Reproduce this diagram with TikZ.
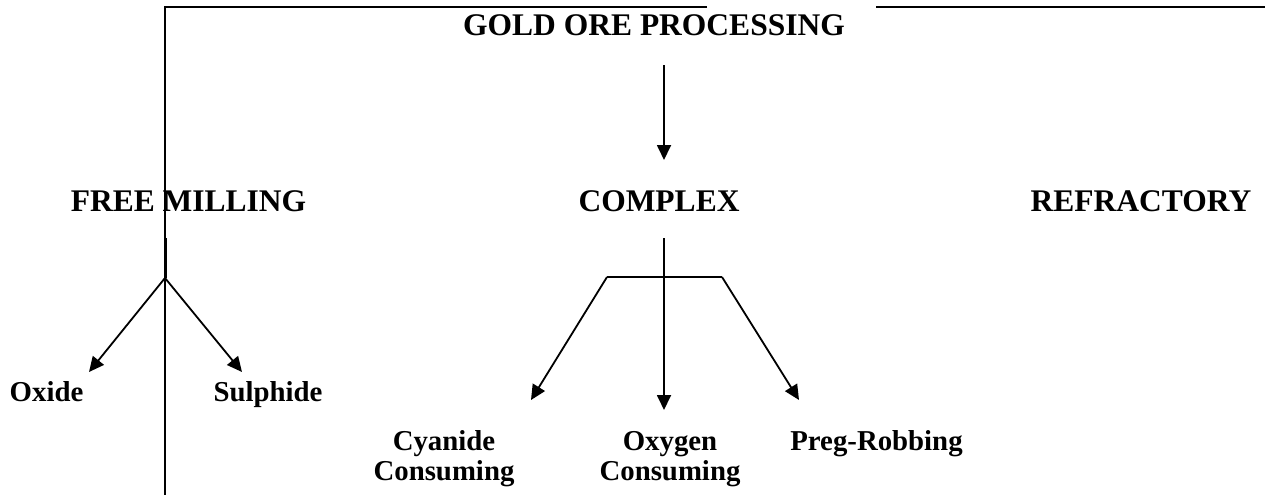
\documentclass[tikz,border=0pt]{standalone}
\usepackage{fontspec}
\setmainfont{Liberation Serif}
\usetikzlibrary{arrows.meta}
\tikzset{
  big/.style={font=\fontsize{31.5}{36}\selectfont\bfseries, inner sep=0pt, anchor=base},
  small/.style={font=\fontsize{28.8}{30}\selectfont\bfseries, inner sep=0pt, anchor=base, align=center},
  conn/.style={line width=1.8pt, -{Triangle[length=15pt,width=14pt]}},
  plain/.style={line width=1.8pt},
}
\begin{document}
\begin{tikzpicture}[x=1pt,y=-1pt]
\useasboundingbox (0,0) rectangle (1265,495);
% frame lines
\coordinate (tl) at (165,7);
\coordinate (tm1) at (707,7);
\coordinate (tm2) at (876,7);
\coordinate (tr) at (1265,7);
\coordinate (bl) at (165,495);
\draw[line width=1.8pt] (tm1) -- (tl) -- (bl);
\draw[line width=1.8pt] (tm2) -- (tr);
% labels
\node[big] (title) at (654,36) {GOLD ORE PROCESSING};
\node[big] (free) at (188.5,211) {FREE MILLING};
\node[big] (complex) at (659,211) {COMPLEX};
\node[big] (refr) at (1141,211) {REFRACTORY};
\node[small] (oxide) at (46.5,401) {Oxide};
\node[small] (sulph) at (268,401) {Sulphide};
\node[small] (cyan) at (444,480) {Cyanide\\Consuming};
\node[small] (oxy) at (670,480) {Oxygen\\Consuming};
\node[small] (preg) at (876.5,450) {Preg-Robbing};
% title to complex
\coordinate (a1) at (664,65);
\coordinate (a2) at (664,160);
\draw[conn] (a1) -- (a2);
% free milling branch
\coordinate (fs) at (165,238);
\coordinate (fb) at (165,278);
\coordinate (ot) at (89,372);
\coordinate (st) at (242,372);
\draw[line width=3pt] (fs) -- (fb);
\draw[conn] (fb) -- (ot);
\draw[conn] (fb) -- (st);
% complex branch
\coordinate (cs) at (664,238);
\coordinate (ct) at (664,410);
\coordinate (kl) at (607,277);
\coordinate (kr) at (722,277);
\coordinate (lt) at (531,400);
\coordinate (rt) at (799,400);
\draw[conn] (cs) -- (ct);
\draw[plain] (kl) -- (kr);
\draw[conn] (kl) -- (lt);
\draw[conn] (kr) -- (rt);
\end{tikzpicture}
\end{document}
